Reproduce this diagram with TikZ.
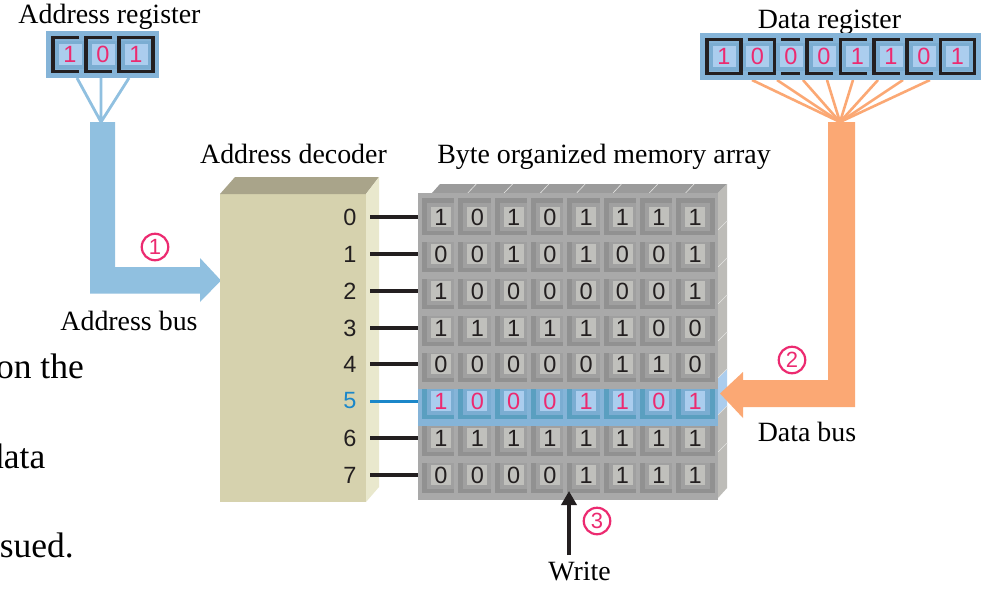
\documentclass[tikz,border=0pt]{standalone}
\usepackage{fontspec}
\setmainfont{Liberation Serif}
\setsansfont{Liberation Sans}
\usetikzlibrary{arrows.meta}
\definecolor{inkblack}{HTML}{231F20}
\definecolor{pinkdig}{HTML}{EC2A70}
\definecolor{busblue}{HTML}{90C0E0}
\definecolor{busorange}{HTML}{FBA874}
\definecolor{regbg}{HTML}{85B4D8}
\definecolor{regmid}{HTML}{7BADD2}
\definecolor{regcore}{HTML}{ABCDEE}
\definecolor{grayBase}{HTML}{A9A9A9}
\definecolor{grayDark}{HTML}{919191}
\definecolor{grayMid}{HTML}{A0A0A0}
\definecolor{grayCore}{HTML}{C0C0BC}
\definecolor{grayCap}{HTML}{9B9B9B}
\definecolor{graySide}{HTML}{BDBCB8}
\definecolor{sepGray}{HTML}{E4E4E2}
\definecolor{rowDark}{HTML}{5A9FC0}
\definecolor{decFront}{HTML}{D6D2AE}
\definecolor{decTop}{HTML}{A9A48A}
\definecolor{decSide}{HTML}{E9E8CD}
\definecolor{selblue}{HTML}{1B87C9}
\tikzset{
  title/.style={font=\rmfamily\fontsize{27.9}{30}\selectfont,text=black,anchor=base,inner sep=0pt},
  bodytext/.style={font=\rmfamily\fontsize{35.5}{38}\selectfont,text=black,anchor=base east,inner sep=0pt},
  digit/.style={font=\sffamily\fontsize{23.5}{24}\selectfont,inner sep=0pt},
  stepnum/.style={circle,draw=pinkdig,line width=2.2pt,minimum size=26.5pt,inner sep=0pt,text=pinkdig,font=\sffamily\fontsize{22}{22}\selectfont},
  tick/.style={draw=inkblack,line width=3.3pt},
  frameline/.style={draw=inkblack,line width=3.4pt},
}
\newcommand{\regcell}[5]{% x, y, bit, kind, name
  \pgfmathsetmacro{\cxa}{#1-17}\pgfmathsetmacro{\cxb}{#1+17}
  \pgfmathsetmacro{\cxc}{#1-10}\pgfmathsetmacro{\cxd}{#1+9}
  \pgfmathsetmacro{\cya}{#2-17}\pgfmathsetmacro{\cyb}{#2+17}
  \fill[regmid] (#1-15,#2-14) rectangle (#1+15,#2+14);
  \fill[regcore] (#1-11.5,#2-10.5) rectangle (#1+11.5,#2+10.5);
  \node[digit,text=pinkdig] (#5) at (#1,#2) {#3};
  \if#4F\draw[frameline] (\cxa,\cya) rectangle (\cxb,\cyb);\fi
  \if#4L\draw[frameline] (\cxd,\cya) -- (\cxa,\cya) -- (\cxa,\cyb) -- (\cxd,\cyb);\fi
  \if#4R\draw[frameline] (\cxc,\cya) -- (\cxb,\cya) -- (\cxb,\cyb) -- (\cxc,\cyb);\fi
  \if#4O\draw[frameline] (\cxc,\cya) -- (\cxd,\cya) (\cxc,\cyb) -- (\cxd,\cyb);\fi
}
\begin{document}
\begin{tikzpicture}[x=1pt,y=-1pt]
\useasboundingbox (0,0) rectangle (997,603);
\fill[white] (0,0) rectangle (997,603);

% body text, cropped by the left edge as in the reference
\node[bodytext] (bodyA) at (84,378) {on the};
\node[bodytext] (bodyB) at (45.5,468) {data};
\node[bodytext] (bodyC) at (74,557) {sued.};

% titles
\node[title] (tAR) at (109.5,23) {Address register};
\node[title] (tDR) at (829.5,28) {Data register};
\node[title] (tAD) at (293.5,163) {Address decoder};
\node[title] (tMA) at (604,163) {Byte organized memory array};
\node[title] (tAB) at (129,330) {Address bus};
\node[title] (tDB) at (807,441) {Data bus};
\node[title] (tWR) at (579.5,580) {Write};

% address fan and bus
\coordinate (addrHub) at (101,122);
\coordinate (af1) at (77,78);
\coordinate (af2) at (101,78);
\coordinate (af3) at (129,78);
\draw[busblue,line width=2.8pt] (af1) -- (addrHub) (af2) -- (addrHub) (af3) -- (addrHub);
\fill[busblue] (90,122) -- (115,122) -- (115,267) -- (200,267) -- (200,258) -- (221,280.5) -- (200,302) -- (200,293.5) -- (90,293.5) -- cycle;

% data fan and bus
\coordinate (dataHub) at (840,122);
\foreach \i/\fx in {1/752,2/777,3/803,4/827,5/853,6/878,7/903,8/930}{
  \coordinate (df\i) at (\fx,80);
  \draw[busorange,line width=2.6pt] (df\i) -- (dataHub);
}

% address register
\fill[regbg] (46,31) rectangle (159,78);
\regcell{70}{54.5}{1}{L}{ar0}
\regcell{103}{54.5}{0}{L}{ar1}
\regcell{136}{54.5}{1}{F}{ar2}

% data register
\fill[regbg] (700,33) rectangle (981,80);
\regcell{724}{56.5}{1}{F}{dr0}
\regcell{757.5}{56.5}{0}{R}{dr1}
\regcell{791}{56.5}{0}{O}{dr2}
\regcell{824}{56.5}{0}{L}{dr3}
\regcell{857.5}{56.5}{1}{L}{dr4}
\regcell{891}{56.5}{1}{L}{dr5}
\regcell{924}{56.5}{0}{L}{dr6}
\regcell{957.5}{56.5}{1}{F}{dr7}

% address decoder
\fill[decFront] (220,194) rectangle (366,502);
\fill[decTop] (220,194) -- (235,177) -- (379,177) -- (366,194) -- cycle;
\fill[decSide] (366,194) -- (379,177) -- (379,487) -- (366,502) -- cycle;

% memory array: top caps and side
\fill[grayCap] (432,193) -- (440,184) -- (727,184) -- (718,193) -- cycle;
\foreach \c in {1,...,7}{
  \pgfmathsetmacro{\sa}{431.5+36.3*\c}\pgfmathsetmacro{\sb}{\sa+8.5}
  \draw[sepGray,line width=0.6pt] (\sa,193) -- (\sb,184);
}
\foreach \r in {0,...,7}{
  \pgfmathsetmacro{\ta}{193+37*\r}\pgfmathsetmacro{\tb}{\ta-9}
  \pgfmathsetmacro{\tc}{\tb+38}\pgfmathsetmacro{\td}{\ta+37}
  \ifnum\r=5 \def\sc{regcore}\else\def\sc{graySide}\fi
  \ifnum\r=7 \pgfmathsetmacro{\td}{498}\pgfmathsetmacro{\tc}{488}\fi
  \fill[\sc] (718,\ta) -- (727,\tb) -- (727,\tc) -- (718,\td) -- cycle;
}
\foreach \r in {1,2,3,4,5,6,7}{
  \pgfmathsetmacro{\ta}{193+37*\r}\pgfmathsetmacro{\tb}{\ta-9}
  \draw[sepGray,line width=0.5pt] (718,\ta) -- (727,\tb);
}

% memory cells, painted bottom row first so that each row overlaps the next
\foreach \r/\y/\bits in {
  7/475/{0,0,0,0,1,1,1,1},
  6/438/{1,1,1,1,1,1,1,1},
  5/401/{1,0,0,0,1,1,0,1},
  4/364/{0,0,0,0,0,1,1,0},
  3/328/{1,1,1,1,1,1,0,0},
  2/291/{1,0,0,0,0,0,0,1},
  1/254/{0,0,1,0,1,0,0,1},
  0/217/{1,0,1,0,1,1,1,1}}{
  \ifnum\r=5
    \def\cb{regbg}\def\cd{rowDark}\def\cm{regmid}\def\cc{regcore}\def\ct{pinkdig}
  \else
    \def\cb{grayBase}\def\cd{grayDark}\def\cm{grayMid}\def\cc{grayCore}\def\ct{inkblack}
  \fi
  \foreach \b [count=\c from 0] in \bits {
    \pgfmathsetmacro{\xc}{441+36.3*\c}
    \fill[\cb] (\xc-23,\y-24) rectangle (\xc+23,\y+24.5);
    \fill[\cd] (\xc-19,\y-19) rectangle (\xc+20,\y+18);
    \fill[\cm] (\xc-14,\y-14) rectangle (\xc+15,\y+14);
    \fill[\cc] (\xc-10,\y-10) rectangle (\xc+10,\y+10);
    \node[digit,text=\ct] (m\r-\c) at (\xc,\y) {\b};
  }
}

% data bus, in front of the array side
\fill[busorange] (828,122) -- (855,122) -- (855,407) -- (743,407) -- (743,418) -- (720,393.5) -- (743,372) -- (743,380) -- (828,380) -- cycle;

% decoder labels and word lines
\foreach \r/\y in {1/254,2/291,3/328,4/364,6/438,7/475}{
  \node[digit,text=inkblack] (d\r) at (350,\y) {\r};
  \coordinate (ws\r) at (370,\y);
  \coordinate (we\r) at (417.5,\y);
  \draw[tick] (ws\r) -- (we\r);
}
\node[digit,text=inkblack] (d0) at (350,217) {0};
\coordinate (ws0) at (370,217);
\coordinate (we0) at (417.5,217);
\draw[tick,line width=4pt] (ws0) -- (we0);
\node[digit,text=selblue] (d5) at (350,401) {5};
\coordinate (ws5) at (370,401);
\coordinate (we5) at (417.5,401);
\draw[tick,draw=selblue,line width=3pt] (ws5) -- (we5);

% write arrow
\coordinate (wtop) at (569,491);
\coordinate (wbot) at (569,555);
\draw[inkblack,line width=4pt,-{Triangle[length=14pt,width=15pt]}] (wbot) -- (wtop);

% step numbers
\node[stepnum] (s1) at (155,247) {1};
\node[stepnum] (s2) at (792,360) {2};
\node[stepnum] (s3) at (597,521) {3};
\end{tikzpicture}
\end{document}
